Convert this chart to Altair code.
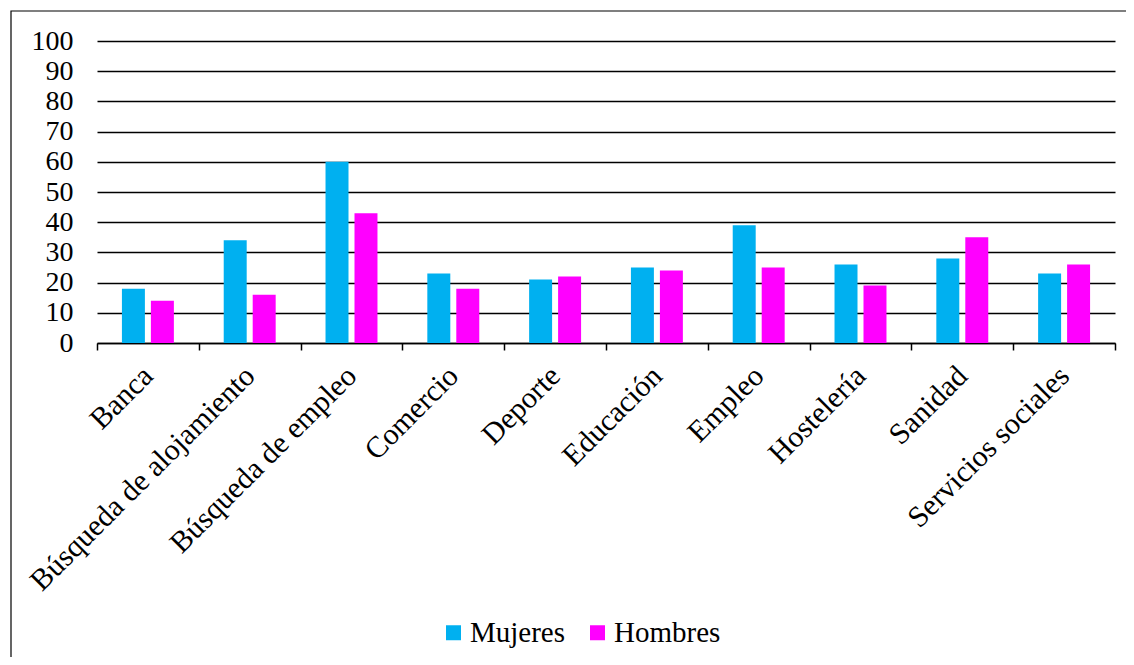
import altair as alt
import pandas as pd

categories = ["Banca", "Búsqueda de alojamiento", "Búsqueda de empleo", "Comercio",
              "Deporte", "Educación", "Empleo", "Hostelería", "Sanidad", "Servicios sociales"]
mujeres = [18, 34, 60, 23, 21, 25, 39, 26, 28, 23]
hombres = [14, 16, 43, 18, 22, 24, 25, 19, 35, 26]
series = ["Mujeres", "Hombres"]
colors = ["#00B0F0", "#FF00FF"]
y_ticks = list(range(0, 101, 10))

rows = []
for c, m, h in zip(categories, mujeres, hombres):
    rows.append({"categoria": c, "serie": "Mujeres", "valor": m})
    rows.append({"categoria": c, "serie": "Hombres", "valor": h})
df = pd.DataFrame(rows)

FONT = "Times New Roman, Liberation Serif, serif"
W, H = 1018, 302

bars = alt.Chart(df).mark_bar(stroke=None).encode(
    x=alt.X("categoria:N", sort=categories, title=None,
            scale=alt.Scale(paddingInner=0, paddingOuter=0),
            axis=alt.Axis(labelAngle=-45, labelAlign="right", labelBaseline="middle",
                          labelFont=FONT, labelFontSize=30, labelColor="black",
                          labelPadding=21, tickBand="extent", tickColor="black",
                          tickSize=7, tickWidth=1.5, domainColor="black", domainWidth=1.5,
                          labelLimit=0, grid=False)),
    xOffset=alt.XOffset("serie:N", sort=series,
                        scale=alt.Scale(paddingInner=0.207, paddingOuter=0.86)),
    y=alt.Y("valor:Q", title=None,
            scale=alt.Scale(domain=[0, 100], nice=False),
            axis=alt.Axis(values=y_ticks, labelFont=FONT, labelFontSize=28,
                          labelColor="black", labelPadding=24, ticks=False, domain=False,
                          grid=True, gridColor="black", gridWidth=1.5)),
    color=alt.Color("serie:N", sort=series,
                    scale=alt.Scale(domain=series, range=colors),
                    legend=alt.Legend(title=None, orient="none", direction="horizontal",
                                      legendX=342, legendY=577, symbolType="square",
                                      symbolSize=225, symbolStrokeWidth=0,
                                      labelFont=FONT, labelFontSize=29, labelColor="black",
                                      columnPadding=17, labelOffset=2)),
)

border = alt.Chart(pd.DataFrame({"a": [0]})).mark_rect(
    fill=None, stroke="black", strokeWidth=1.2
).encode(x=alt.value(-86), x2=alt.value(1040), y=alt.value(-30), y2=alt.value(640))

chart = alt.layer(border, bars).properties(
    width=W, height=H,
    autosize=alt.AutoSizeParams(type="none"),
    padding={"left": 89, "top": 33, "right": 11, "bottom": 314},
).configure(background="white", font=FONT).configure_view(stroke=None).configure_axis(
    labelFont=FONT).configure_legend(labelFont=FONT)

chart.save("out.html", embed_options={"renderer": "svg", "actions": False})
